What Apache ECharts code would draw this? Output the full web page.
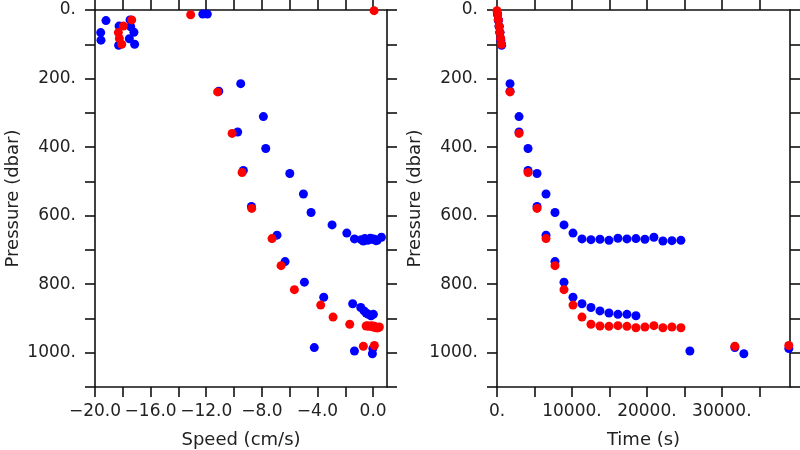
<!DOCTYPE html>
<html>
<head>
<meta charset="utf-8">
<script src="https://cdn.jsdelivr.net/npm/echarts@6/dist/echarts.min.js"></script>
<style>
html,body{margin:0;padding:0;background:#fff;}
#c{width:800px;height:450px;}
</style>
</head>
<body>
<div id="c"></div>
<script>
// ---- Blue profiles ----
const blueTime = [60, 70, 170, 180, 280, 290, 380, 390, 490, 510, 590, 620,
  1740, 2940, 4140, 5340, 6540, 7740, 8940, 10140, 11340, 12540, 13740, 14940, 16140, 17340, 18540, 19740, 20940, 22140, 23340, 24540,
  1740, 2940, 4140, 5340, 6540, 7740, 8940, 10140, 11340, 12540, 13740, 14940, 16140, 17340, 18540,
  25740, 31740, 32940, 38940];
const bluePressure = [12, 12, 29, 31, 47, 49, 65, 66, 84, 88, 100, 103,
  215, 311, 404, 477, 537, 591, 627, 651, 668, 670, 669, 672, 666, 668, 667, 669, 663, 674, 673, 672,
  237, 356, 468, 573, 657, 734, 794, 838, 857, 868, 878, 884, 888, 888, 892,
  995, 985, 1003, 988];
const blueSpeed = [-12.25, -11.92, -17.48, -19.21, -18.27, -17.43, -17.2, -19.59, -17.53, -19.57, -17.15, -18.3,
  -9.52, -7.89, -7.72, -5.99, -5.01, -4.46, -2.95, -1.89, -1.34, -0.86, -0.09, -0.38, -0.2, 0.0, -0.6, 0.1, 0.6, -0.7, 0.2, 0.3,
  -11.1, -9.74, -9.33, -8.75, -6.91, -6.33, -4.94, -3.55, -1.47, -0.89, -0.65, -0.5, -0.34, 0.02, -0.15,
  -1.34, -4.23, -0.05, -0.02];

// ---- Red profile ----
const redTime = [0, 90, 180, 280, 380, 480, 590,
  1740, 2940, 4140, 5340, 6540, 7740, 8940, 10140, 11340, 12540, 13740, 14940, 16140, 17340, 18540, 19740, 20940, 22140, 23340, 24540,
  31740, 38940];
const redPressure = [2, 14, 29, 47, 66, 83, 100,
  239, 360, 474, 579, 667, 746, 816, 861, 896, 917, 922, 923, 921, 923, 927, 925, 921, 927, 925, 927,
  981, 979];
const redSpeed = [0.07, -13.12, -17.36, -17.96, -18.32, -18.25, -18.08,
  -11.18, -10.14, -9.42, -8.73, -7.27, -6.62, -5.66, -3.77, -2.88, -1.68, -0.5, -0.3, -0.1, 0.1, 0.3, 0.45, -0.4, 0.2, 0.0, 0.35,
  -0.7, 0.09];

// ---- Axis ticks ----
const pressureTicks = [0, 100, 200, 300, 400, 500, 600, 700, 800, 900, 1000, 1100];
const pressureLabels = [0, 200, 400, 600, 800, 1000];
const speedTicks = [-20, -18, -16, -14, -12, -10, -8, -6, -4, -2, 0];
const speedLabels = [-20, -16, -12, -8, -4, 0];
const timeTicks = [0, 5000, 10000, 15000, 20000, 25000, 30000, 35000];
const timeLabels = [0, 10000, 20000, 30000];

const FONT = 'DejaVu Sans';
const LC = '#111';
const lineStyle = {color: LC, width: 1.6};

function zipPts(xs, ys){ return xs.map((x,i)=>[x, ys[i]]); }

function fmtSpeed(v){
  return (v < 0 ? '\u2212' : '') + Math.abs(v).toFixed(1);
}

function xAx(grid, min, max, interval, ticks, labels, fmt, name, position){
  const bottom = position === 'bottom';
  return {
    type: 'value', gridIndex: grid, position: position, min: min, max: max, interval: interval,
    axisLine: {show: true, onZero: false, lineStyle: lineStyle},
    axisTick: {show: true, inside: false, length: 10, lineStyle: lineStyle, customValues: ticks},
    axisLabel: {show: bottom, margin: 16, fontFamily: FONT, fontSize: 17, color: '#222',
      customValues: labels, formatter: fmt, showMinLabel: true, showMaxLabel: true},
    splitLine: {show: false},
    name: bottom ? name : '', nameLocation: 'middle', nameGap: 44,
    nameTextStyle: {fontFamily: FONT, fontSize: 18, color: '#222'}
  };
}
function yAx(grid, position){
  const left = position === 'left';
  return {
    type: 'value', gridIndex: grid, position: position, inverse: true, min: 0, max: 1100, interval: 100,
    axisLine: {show: true, onZero: false, lineStyle: lineStyle},
    axisTick: {show: true, inside: false, length: 10, lineStyle: lineStyle, customValues: pressureTicks},
    axisLabel: {show: left, margin: 19, fontFamily: FONT, fontSize: 17, color: '#222',
      customValues: pressureLabels, formatter: v => v + '.'},
    splitLine: {show: false},
    name: left ? 'Pressure (dbar)' : '', nameLocation: 'middle', nameGap: 73, nameRotate: 90,
    nameTextStyle: {fontFamily: FONT, fontSize: 18, color: '#222'}
  };
}

const chart = echarts.init(document.getElementById('c'), null, {renderer: 'canvas'});
chart.setOption({
  animation: false,
  backgroundColor: '#fff',
  grid: [
    {left: 95, top: 10, width: 292, height: 377, containLabel: false, outerBoundsMode: 'none'},
    {left: 497, top: 10, width: 293, height: 377, containLabel: false, outerBoundsMode: 'none'}
  ],
  xAxis: [
    xAx(0, -20, 1, 2, speedTicks, speedLabels, fmtSpeed, 'Speed (cm/s)', 'bottom'),
    xAx(0, -20, 1, 2, speedTicks, speedLabels, fmtSpeed, '', 'top'),
    xAx(1, 0, 39100, 5000, timeTicks, timeLabels, v => v + '.', 'Time (s)', 'bottom'),
    xAx(1, 0, 39100, 5000, timeTicks, timeLabels, v => v + '.', '', 'top')
  ],
  yAxis: [
    yAx(0, 'left'), yAx(0, 'right'), yAx(1, 'left'), yAx(1, 'right')
  ],
  series: [
    {type: 'scatter', xAxisIndex: 0, yAxisIndex: 0, data: zipPts(blueSpeed, bluePressure),
      symbol: 'circle', symbolSize: 9, itemStyle: {color: '#0000ff', opacity: 1}, clip: true, z: 2},
    {type: 'scatter', xAxisIndex: 0, yAxisIndex: 0, data: zipPts(redSpeed, redPressure),
      symbol: 'circle', symbolSize: 9, itemStyle: {color: '#ff0000', opacity: 1}, clip: true, z: 3},
    {type: 'scatter', xAxisIndex: 2, yAxisIndex: 2, data: zipPts(blueTime, bluePressure),
      symbol: 'circle', symbolSize: 9, itemStyle: {color: '#0000ff', opacity: 1}, clip: true, z: 2},
    {type: 'scatter', xAxisIndex: 2, yAxisIndex: 2, data: zipPts(redTime, redPressure),
      symbol: 'circle', symbolSize: 9, itemStyle: {color: '#ff0000', opacity: 1}, clip: true, z: 3}
  ]
});
</script>
</body>
</html>
